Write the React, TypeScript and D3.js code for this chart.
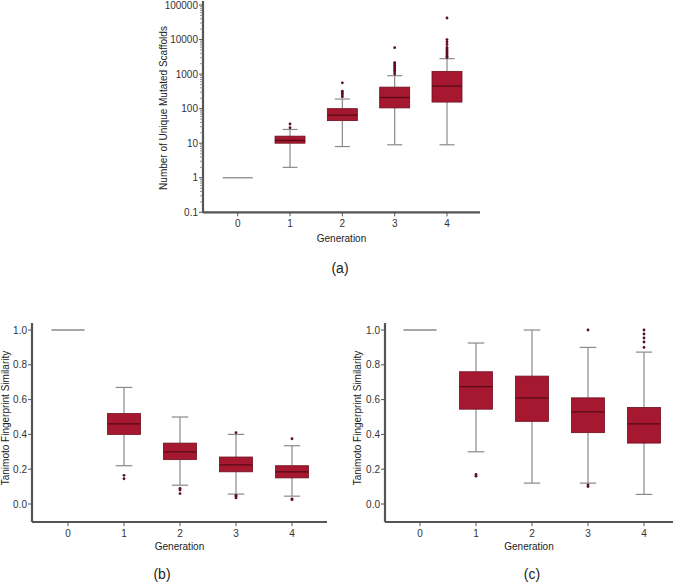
import React from "react";
import * as d3 from "d3";

const generations = [0, 1, 2, 3, 4];

// Panel (a): number of unique mutated scaffolds (log scale)
const aSingle = 1;
const aLow = [2, 8, 9, 9];
const aQ1 = [10, 45, 105, 155];
const aMed = [12, 65, 210, 450];
const aQ3 = [16, 100, 420, 1200];
const aHigh = [25, 190, 900, 2800];
const aOutliers = [
  [28, 36],
  [220, 250, 280, 320, 560],
  [1000, 1150, 1300, 1450, 1600, 1800, 2000, 2150, 5800],
  [3000, 3300, 3600, 4000, 4400, 4800, 5300, 5900, 7200, 8600, 10000, 42000],
];
const aTicks = [0.1, 1, 10, 100, 1000, 10000, 100000];

// Panel (b): Tanimoto similarity
const bSingle = 1.0;
const bLow = [0.22, 0.108, 0.057, 0.045];
const bQ1 = [0.4, 0.255, 0.185, 0.15];
const bMed = [0.46, 0.3, 0.225, 0.185];
const bQ3 = [0.52, 0.35, 0.27, 0.22];
const bHigh = [0.67, 0.5, 0.4, 0.335];
const bOutliers = [
  [0.165, 0.145],
  [0.09, 0.08, 0.06],
  [0.41, 0.05, 0.043, 0.035],
  [0.375, 0.03, 0.025],
];

// Panel (c): Tanimoto similarity
const cSingle = 1.0;
const cLow = [0.3, 0.12, 0.12, 0.055];
const cQ1 = [0.545, 0.475, 0.41, 0.35];
const cMed = [0.675, 0.61, 0.53, 0.46];
const cQ3 = [0.76, 0.735, 0.61, 0.555];
const cHigh = [0.925, 1.0, 0.9, 0.873];
const cOutliers = [
  [0.17, 0.16],
  [],
  [1.0, 0.11, 0.1],
  [1.0, 0.977, 0.954, 0.931, 0.9],
];
const simTicks = [0.0, 0.2, 0.4, 0.6, 0.8, 1.0];

const FONT = "'Liberation Sans', Arial, Helvetica, sans-serif";
const BOX_FILL = "#a5182f";
const BOX_STROKE = "#6e1020";
const MED = "#560a17";
const WHISK = "#8a8a8a";
const AXIS = "#555";
const DOT = "#5e0d1c";
const FS = 10;

type PanelProps = {
  x: d3.ScaleLinear<number, number>;
  y: (v: number) => number;
  xRange: [number, number];
  yRange: [number, number];
  ticks: number[];
  tickFmt: (v: number) => string;
  minor?: number[];
  single: number;
  low: number[];
  q1: number[];
  med: number[];
  q3: number[];
  high: number[];
  outliers: number[][];
  boxW: number;
  yLabel: string;
  yLabelX: number;
  yLabelY: number;
  genY: number;
};

function Panel(p: PanelProps) {
  const [x0, x1] = p.xRange;
  const [yTop, yBot] = p.yRange;
  const hw = p.boxW / 2;
  return (
    <g fontFamily={FONT}>
      <line x1={p.x(0) - hw} x2={p.x(0) + hw} y1={p.y(p.single)} y2={p.y(p.single)} stroke={WHISK} strokeWidth={1.3} />
      {generations.slice(1).map((g, i) => {
        const cx = p.x(g);
        return (
          <g key={g}>
            <line x1={cx} x2={cx} y1={p.y(p.high[i])} y2={p.y(p.q3[i])} stroke={WHISK} strokeWidth={1.2} />
            <line x1={cx} x2={cx} y1={p.y(p.q1[i])} y2={p.y(p.low[i])} stroke={WHISK} strokeWidth={1.2} />
            <line x1={cx - hw / 2} x2={cx + hw / 2} y1={p.y(p.high[i])} y2={p.y(p.high[i])} stroke={WHISK} strokeWidth={1.2} />
            <line x1={cx - hw / 2} x2={cx + hw / 2} y1={p.y(p.low[i])} y2={p.y(p.low[i])} stroke={WHISK} strokeWidth={1.2} />
            <rect x={cx - hw} y={p.y(p.q3[i])} width={p.boxW} height={p.y(p.q1[i]) - p.y(p.q3[i])} fill={BOX_FILL} stroke={BOX_STROKE} strokeWidth={0.8} />
            <line x1={cx - hw} x2={cx + hw} y1={p.y(p.med[i])} y2={p.y(p.med[i])} stroke={MED} strokeWidth={1.3} />
            {p.outliers[i].map((o, j) => (
              <circle key={j} cx={cx} cy={p.y(o)} r={1.4} fill={DOT} />
            ))}
          </g>
        );
      })}
      <line x1={x0} x2={x0} y1={yTop} y2={yBot} stroke={AXIS} strokeWidth={2.2} />
      <line x1={x0} x2={x1} y1={yBot} y2={yBot} stroke={AXIS} strokeWidth={2.2} />
      {(p.minor || []).map((m, i) => (
        <line key={"m" + i} x1={x0 - 3} x2={x0} y1={p.y(m)} y2={p.y(m)} stroke="#777" strokeWidth={0.8} />
      ))}
      {p.ticks.map((t, i) => (
        <g key={"t" + i}>
          <line x1={x0 - 4} x2={x0} y1={p.y(t)} y2={p.y(t)} stroke={AXIS} strokeWidth={1} />
          <text x={x0 - 5} y={p.y(t)} dy="0.35em" textAnchor="end" fontSize={FS} fill="#333">
            {p.tickFmt(t)}
          </text>
        </g>
      ))}
      {generations.map((g) => (
        <g key={"x" + g}>
          <line x1={p.x(g)} x2={p.x(g)} y1={yBot} y2={yBot + 4} stroke={AXIS} strokeWidth={1} />
          <text x={p.x(g)} y={yBot + 15} textAnchor="middle" fontSize={FS} fill="#333">
            {g}
          </text>
        </g>
      ))}
      <text x={(x0 + x1) / 2} y={p.genY} textAnchor="middle" fontSize={FS} fill="#222">
        Generation
      </text>
      <text
        transform={`translate(${p.yLabelX},${p.yLabelY}) rotate(-90)`}
        textAnchor="middle"
        fontSize={FS}
        fill="#222"
      >
        {p.yLabel}
      </text>
    </g>
  );
}

export default function App() {
  const ya = d3.scaleLog().domain([0.1, 100000]).range([212.3, 5]);
  const xa = d3.scaleLinear().domain([0, 4]).range([237.7, 447]);
  const minorA: number[] = [];
  for (let e = -1; e < 5; e++) {
    for (let k = 2; k <= 9; k++) minorA.push(k * Math.pow(10, e));
  }

  const ysim = d3.scaleLinear().domain([0, 1]).range([504, 330]);
  const xb = d3.scaleLinear().domain([0, 4]).range([68, 292]);
  const xc = d3.scaleLinear().domain([0, 4]).range([420, 644]);

  return (
    <svg width={680} height={586} style={{ position: "absolute", left: 0, top: 0, background: "#fff" }}>
      <rect width={680} height={586} fill="#fff" />
      <Panel
        x={xa}
        y={ya}
        xRange={[203, 480]}
        yRange={[1, 212.3]}
        ticks={aTicks}
        tickFmt={(v) => (v < 1 ? "0.1" : d3.format("d")(v))}
        minor={minorA}
        single={aSingle}
        low={aLow}
        q1={aQ1}
        med={aMed}
        q3={aQ3}
        high={aHigh}
        outliers={aOutliers}
        boxW={30}
        yLabel="Number of Unique Mutated Scaffolds"
        yLabelX={167}
        yLabelY={108}
        genY={242}
      />
      <Panel
        x={xb}
        y={ysim}
        xRange={[32, 327]}
        yRange={[323, 522]}
        ticks={simTicks}
        tickFmt={d3.format(".1f")}
        single={bSingle}
        low={bLow}
        q1={bQ1}
        med={bMed}
        q3={bQ3}
        high={bHigh}
        outliers={bOutliers}
        boxW={33}
        yLabel="Tanimoto Fingerprint Similarity"
        yLabelX={9}
        yLabelY={418}
        genY={550}
      />
      <Panel
        x={xc}
        y={ysim}
        xRange={[385, 673]}
        yRange={[323, 522]}
        ticks={simTicks}
        tickFmt={d3.format(".1f")}
        single={cSingle}
        low={cLow}
        q1={cQ1}
        med={cMed}
        q3={cQ3}
        high={cHigh}
        outliers={cOutliers}
        boxW={33}
        yLabel="Tanimoto Fingerprint Similarity"
        yLabelX={361}
        yLabelY={418}
        genY={550}
      />
      <text x={340} y={273} textAnchor="middle" fontSize={14} fontFamily={FONT} fill="#222">(a)</text>
      <text x={162} y={579} textAnchor="middle" fontSize={14} fontFamily={FONT} fill="#222">(b)</text>
      <text x={532} y={579} textAnchor="middle" fontSize={14} fontFamily={FONT} fill="#222">(c)</text>
    </svg>
  );
}
